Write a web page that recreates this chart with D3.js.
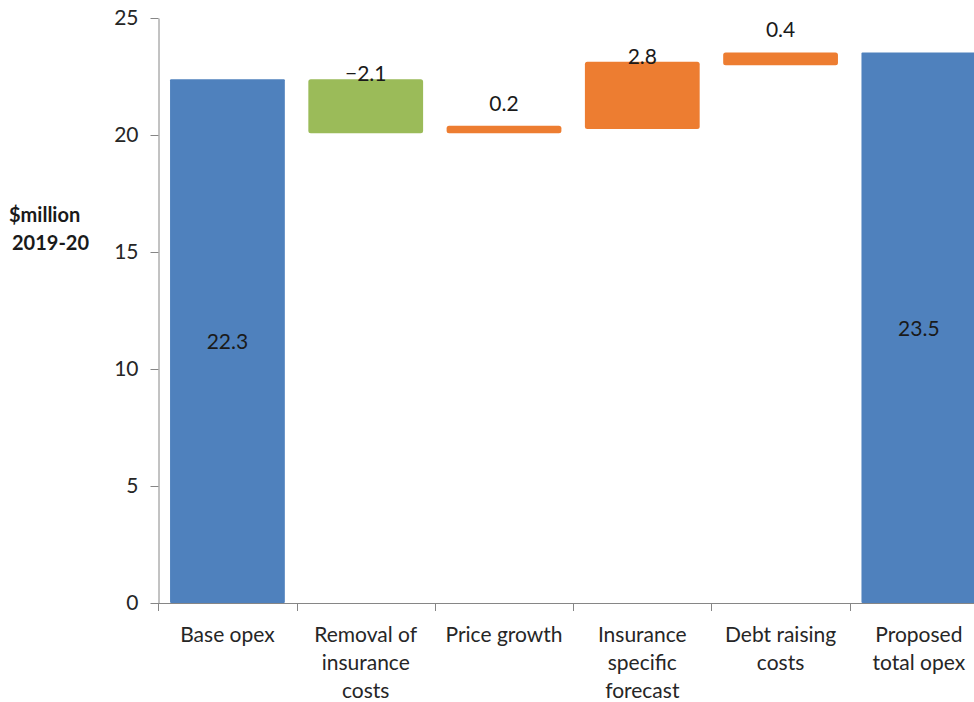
<!DOCTYPE html>
<html>
<head>
<meta charset="utf-8">
<script src="https://cdn.jsdelivr.net/npm/d3@7"></script>
<style>
  body { margin: 0; background: #fff; }
  svg { display: block; font-family: Lato, "Open Sans", sans-serif; }
</style>
</head>
<body>
<div id="chart"></div>
<script>
// waterfall data
const categories = ["Base opex", "Removal of insurance costs", "Price growth",
                    "Insurance specific forecast", "Debt raising costs", "Proposed total opex"];
const categoryLines = [["Base opex"], ["Removal of", "insurance", "costs"], ["Price growth"],
                       ["Insurance", "specific", "forecast"], ["Debt raising", "costs"], ["Proposed", "total opex"]];
const barStart = [0, 22.38, 20.07, 20.26, 22.98, 0];
const barEnd = [22.38, 20.07, 20.40, 23.13, 23.53, 23.53];
const barKind = ["total", "decrease", "increase", "increase", "increase", "total"];
const barLabels = ["22.3", "\u22122.1", "0.2", "2.8", "0.4", "23.5"];
const yTicks = [0, 5, 10, 15, 20, 25];

const w = 974, h = 702;
const colors = { total: "#4f81bd", decrease: "#9bbb59", increase: "#ed7d31" };
const fontSize = 21;

const svg = d3.select("#chart").append("svg")
    .attr("width", w)
    .attr("height", h);

const yScale = d3.scaleLinear()
    .domain([0, 25])
    .range([603, 18]);

const xScale = d3.scaleBand()
    .domain(categories)
    .range([158.3, 988])
    .paddingInner(0.17)
    .paddingOuter(0.085);

const step = xScale.step();
const x0 = xScale.range()[0];

// y axis
const yAxis = d3.axisLeft(yScale)
    .tickValues(yTicks)
    .tickSize(8)
    .tickPadding(12)
    .tickSizeOuter(0);

const gy = svg.append("g")
    .attr("transform", "translate(158.5,0)")
    .call(yAxis);
gy.select(".domain").attr("stroke", "#868686");
gy.selectAll(".tick line").attr("stroke", "#868686");
gy.selectAll(".tick text")
    .attr("font-size", fontSize)
    .attr("font-family", "Lato, 'Open Sans', sans-serif")
    .attr("fill", "#262626");

// bars
const data = categories.map((c, i) => ({
    cat: c, start: barStart[i], end: barEnd[i], kind: barKind[i], label: barLabels[i]
}));

svg.selectAll("rect.bar")
    .data(data)
    .enter()
    .append("rect")
    .attr("class", "bar")
    .attr("x", d => xScale(d.cat))
    .attr("y", d => yScale(Math.max(d.start, d.end)))
    .attr("width", xScale.bandwidth())
    .attr("height", d => Math.abs(yScale(d.start) - yScale(d.end)))
    .attr("rx", d => d.kind == "total" ? 1 : 2.5)
    .attr("fill", d => colors[d.kind]);

// x axis line + boundary ticks
svg.append("line")
    .attr("x1", x0).attr("x2", w)
    .attr("y1", yScale(0) + 0.5).attr("y2", yScale(0) + 0.5)
    .attr("stroke", "#868686");

svg.selectAll("line.xtick")
    .data(d3.range(categories.length))
    .enter()
    .append("line")
    .attr("class", "xtick")
    .attr("x1", i => Math.round(x0 + i * step) + 0.5)
    .attr("x2", i => Math.round(x0 + i * step) + 0.5)
    .attr("y1", yScale(0))
    .attr("y2", yScale(0) + 8)
    .attr("stroke", "#868686");

// category labels
const catText = svg.selectAll("text.cat")
    .data(data)
    .enter()
    .append("text")
    .attr("class", "cat")
    .attr("text-anchor", "middle")
    .attr("font-size", fontSize)
    .attr("fill", "#262626")
    .attr("x", d => xScale(d.cat) + xScale.bandwidth() / 2)
    .attr("y", 642);

catText.selectAll("tspan")
    .data((d, i) => categoryLines[i].map(l => ({ line: l, x: xScale(d.cat) + xScale.bandwidth() / 2 })))
    .enter()
    .append("tspan")
    .attr("x", d => d.x)
    .attr("dy", (d, i) => i == 0 ? 0 : 28)
    .text(d => d.line);

// value labels
svg.selectAll("text.val")
    .data(data)
    .enter()
    .append("text")
    .attr("class", "val")
    .attr("text-anchor", "middle")
    .attr("font-size", fontSize)
    .attr("fill", "#1a1a1a")
    .attr("x", d => xScale(d.cat) + xScale.bandwidth() / 2)
    .attr("y", d => {
        if (d.kind == "total") return yScale((d.start + d.end) / 2) + 8;
        const top = yScale(Math.max(d.start, d.end));
        const hgt = Math.abs(yScale(d.start) - yScale(d.end));
        return hgt < 20 ? top - 15 : top + 2;
    })
    .text(d => d.label);

// y axis title
svg.append("text")
    .attr("x", 9)
    .attr("y", 222)
    .attr("font-size", 20)
    .attr("font-weight", "bold")
    .attr("fill", "#1a1a1a")
    .selectAll("tspan")
    .data(["$million", "2019-20"])
    .enter()
    .append("tspan")
    .attr("x", (d, i) => i == 0 ? 9 : 12)
    .attr("dy", (d, i) => i == 0 ? 0 : 28)
    .text(d => d);
</script>
</body>
</html>
